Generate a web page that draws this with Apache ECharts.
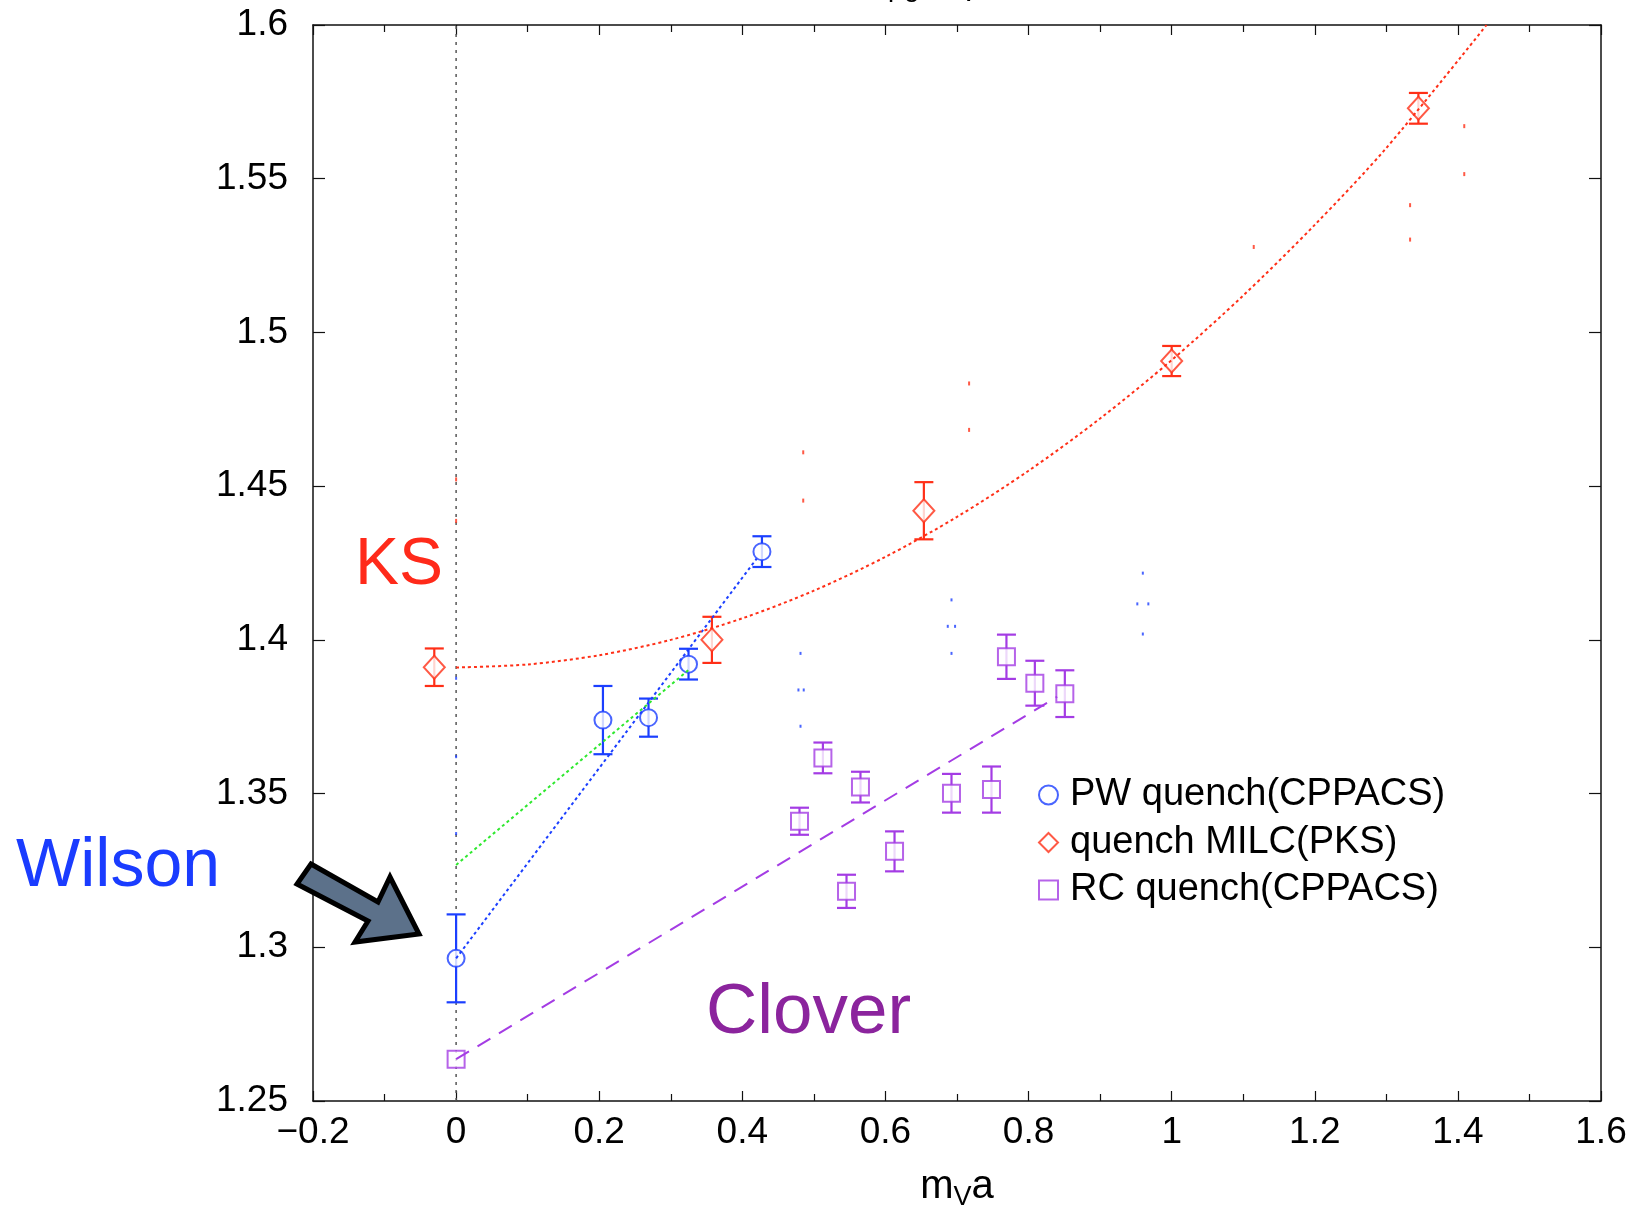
<!DOCTYPE html>
<html>
<head>
<meta charset="utf-8">
<title>m_V a chart</title>
<script src="https://cdn.jsdelivr.net/npm/echarts@6/dist/echarts.min.js"></script>
<style>
  html, body { margin: 0; padding: 0; background: #fff; }
  #chart { width: 1634px; height: 1206px; }
</style>
</head>
<body>
<div id="chart"></div>
<script>
// PW quench (CPPACS) - blue circles
var pwX = [0, 0.2052, 0.2689, 0.3248, 0.4274];
var pwY = [1.2964, 1.3739, 1.3747, 1.3921, 1.4287];
var pwErr = [0.0143, 0.0111, 0.0062, 0.005, 0.005];

// quench MILC (PKS) - red diamonds
var ksX = [-0.0305, 0.3575, 0.6537, 1.0, 1.3448];
var ksY = [1.3911, 1.4, 1.442, 1.4907, 1.5729];
var ksErr = [0.0061, 0.0075, 0.0093, 0.0049, 0.005];

// RC quench (CPPACS) - purple squares
var rcX = [0, 0.4799, 0.5126, 0.5456, 0.5651, 0.6127, 0.6923, 0.7482, 0.7691, 0.8088, 0.8507];
var rcY = [1.2636, 1.341, 1.3616, 1.3182, 1.3521, 1.3312, 1.3501, 1.3513, 1.3945, 1.3859, 1.3825];
var rcErr = [0, 0.0044, 0.005, 0.0054, 0.005, 0.0065, 0.0063, 0.0075, 0.0072, 0.0073, 0.0076];

// fit lines
var pwFitX = [0, 0.42];
var pwFitY = [1.2964, 1.4264];
var greenFitX = [0, 0.3248];
var greenFitY = [1.3268, 1.3902];
var ksFitX = [0, 0.1, 0.2, 0.3, 0.4, 0.5, 0.6, 0.7, 0.8, 0.9, 1.0, 1.1, 1.2, 1.3, 1.44];
var ksFitY = [1.391, 1.392, 1.395, 1.4, 1.407, 1.416, 1.427, 1.44, 1.455, 1.472, 1.491, 1.512, 1.535, 1.56, 1.6];
var rcFitX = [0, 0.84];
var rcFitY = [1.2636, 1.3815];

// stray specks left in the plot
var strayRedX = [0, 0, 0.4851, 0.4851, 0.7169, 0.7169, 1.1147, 1.3332, 1.3332, 1.4089, 1.4089];
var strayRedY = [1.4522, 1.4387, 1.461, 1.4453, 1.4834, 1.4683, 1.5278, 1.5414, 1.5302, 1.5671, 1.5515];
var strayBlueX = [0, 0, 0, 0.4813, 0.4784, 0.4858, 0.4813, 0.6923, 0.6871, 0.6973, 0.6923, 0.9597, 0.952, 0.9674, 0.9597];
var strayBlueY = [1.3875, 1.362, 1.337, 1.3956, 1.3837, 1.3837, 1.3719, 1.413, 1.4044, 1.4044, 1.3956, 1.4217, 1.4117, 1.4117, 1.4019];

var xTicks = { min: -0.2, max: 1.6, interval: 0.2 };
var yTicks = { min: 1.25, max: 1.6, interval: 0.05 };

var BLUE = '#1b3fff';
var RED = '#ff2f17';
var PURPLE = '#a43ce4';
var GREEN = '#2fe82f';
var FONT = 'Liberation Sans, Arial, Helvetica, sans-serif';

function pairs(xs, ys) {
  return xs.map(function (x, i) { return [x, ys[i]]; });
}
function errData(xs, ys, es) {
  var out = [];
  xs.forEach(function (x, i) {
    if (es[i] > 0) out.push([x, ys[i] - es[i], ys[i] + es[i]]);
  });
  return out;
}
function errBar(color) {
  return function (params, api) {
    var x = api.value(0);
    var lo = api.coord([x, api.value(1)]);
    var hi = api.coord([x, api.value(2)]);
    var w = 9.5;
    var st = { stroke: color, lineWidth: 2.2 };
    return {
      type: 'group',
      children: [
        { type: 'line', shape: { x1: lo[0], y1: lo[1], x2: hi[0], y2: hi[1] }, style: st },
        { type: 'line', shape: { x1: lo[0] - w, y1: lo[1], x2: lo[0] + w, y2: lo[1] }, style: st },
        { type: 'line', shape: { x1: hi[0] - w, y1: hi[1], x2: hi[0] + w, y2: hi[1] }, style: st }
      ]
    };
  };
}
function fitLine(xs, ys, color, type, width) {
  return {
    type: 'line', data: pairs(xs, ys), smooth: xs.length > 2 ? 0.3 : false,
    showSymbol: false, symbol: 'none', silent: true, z: 5,
    lineStyle: { color: color, width: width || 2, type: type }
  };
}

var xLabel = function (v) {
  var r = +v.toFixed(1);
  if (r === 0) return '0';
  return r < 0 ? '\u2212' + Math.abs(r) : String(r);
};
var yLabel = function (v) { return String(+v.toFixed(2)); };

var axisLine = { show: true, onZero: false, lineStyle: { color: '#111', width: 1.5 } };

var chart = echarts.init(document.getElementById('chart'));
var option = {
  backgroundColor: '#fff',
  animation: false,
  grid: { left: 313, right: 33, top: 25, bottom: 105, outerBoundsMode: 'none', containLabel: false },
  legend: {
    orient: 'vertical', left: 1033, top: 771,
    itemWidth: 19, itemHeight: 19, itemGap: 9.5,
    textStyle: { fontSize: 38, fontFamily: FONT, color: '#000', lineHeight: 38, padding: [0, 0, 0, 7] },
    data: ['PW quench(CPPACS)', 'quench MILC(PKS)', 'RC quench(CPPACS)']
  },
  xAxis: [
    {
      type: 'value', min: xTicks.min, max: xTicks.max, interval: xTicks.interval,
      position: 'bottom', axisLine: axisLine,
      axisTick: { inside: true, length: 10, lineStyle: { color: '#111', width: 1.2 } },
      minorTick: { show: true, splitNumber: 2, length: 7, lineStyle: { color: '#111', width: 1.2 } },
      splitLine: { show: false },
      axisLabel: { formatter: xLabel, fontSize: 37, fontFamily: FONT, color: '#000', margin: 13 },
      name: 'm{sub|V}a', nameLocation: 'middle', nameGap: 61,
      nameTextStyle: {
        fontSize: 40, fontFamily: FONT, color: '#000',
        rich: { sub: { fontSize: 27, fontFamily: FONT, color: '#000', verticalAlign: 'bottom', padding: [22, 0, 0, 0] } }
      }
    },
    {
      type: 'value', min: xTicks.min, max: xTicks.max, interval: xTicks.interval,
      position: 'top', axisLine: axisLine,
      axisTick: { inside: true, length: 10, lineStyle: { color: '#111', width: 1.2 } },
      minorTick: { show: true, splitNumber: 2, length: 7, lineStyle: { color: '#111', width: 1.2 } },
      splitLine: { show: false }, axisLabel: { show: false }
    }
  ],
  yAxis: [
    {
      type: 'value', min: yTicks.min, max: yTicks.max, interval: yTicks.interval,
      position: 'left', axisLine: axisLine,
      axisTick: { inside: true, length: 12, lineStyle: { color: '#111', width: 1.2 } },
      splitLine: { show: false },
      axisLabel: { formatter: yLabel, fontSize: 37, fontFamily: FONT, color: '#000', margin: 25 }
    },
    {
      type: 'value', min: yTicks.min, max: yTicks.max, interval: yTicks.interval,
      position: 'right', axisLine: axisLine,
      axisTick: { inside: true, length: 12, lineStyle: { color: '#111', width: 1.2 } },
      splitLine: { show: false }, axisLabel: { show: false }
    }
  ],
  graphic: [
    // title, mostly cut off above the picture
    { type: 'text', left: 888, top: -26, style: { text: '\u03c1g', fontSize: 28, fontFamily: FONT, fill: '#000' } },
    { type: 'text', left: 960, top: -19, style: { text: 'V', fontSize: 26, fontFamily: FONT, fill: '#000' } },
    { type: 'text', style: { text: 'KS', x: 355, y: 566, fontSize: 66, fontFamily: FONT, fill: '#ff2a1a', verticalAlign: 'middle' } },
    { type: 'text', style: { text: 'Wilson', x: 16, y: 867, fontSize: 68, fontFamily: FONT, fill: '#1a3cff', verticalAlign: 'middle' } },
    { type: 'text', style: { text: 'Clover', x: 706, y: 1013, fontSize: 71, fontFamily: FONT, fill: '#8b249d', verticalAlign: 'middle' } },
    {
      type: 'polygon', z: 10,
      shape: { points: [[311, 864], [378, 902], [390, 877], [419, 934], [355, 942], [368, 921], [297, 884]] },
      style: { fill: '#5c718a', stroke: '#000', lineWidth: 5, lineJoin: 'miter' }
    }
  ],
  series: [
    {
      type: 'line', data: [[0, yTicks.min], [0, yTicks.max]], symbol: 'none', silent: true, z: 1,
      lineStyle: { color: '#555', width: 1.5, type: [3, 5] }
    },
    { type: 'custom', renderItem: errBar(BLUE), data: errData(pwX, pwY, pwErr), encode: { x: 0, y: [1, 2] }, z: 2, silent: true },
    { type: 'custom', renderItem: errBar(RED), data: errData(ksX, ksY, ksErr), encode: { x: 0, y: [1, 2] }, z: 2, silent: true },
    { type: 'custom', renderItem: errBar(PURPLE), data: errData(rcX, rcY, rcErr), encode: { x: 0, y: [1, 2] }, z: 2, silent: true },
    {
      name: 'PW quench(CPPACS)', type: 'scatter', data: pairs(pwX, pwY), z: 4,
      symbol: 'emptyCircle', symbolSize: 17, itemStyle: { color: BLUE, borderColor: BLUE, borderWidth: 2.6 }
    },
    {
      name: 'quench MILC(PKS)', type: 'scatter', data: pairs(ksX, ksY), z: 4,
      symbol: 'emptyDiamond', symbolSize: [21, 23], itemStyle: { color: RED, borderColor: RED, borderWidth: 2.6 }
    },
    {
      name: 'RC quench(CPPACS)', type: 'scatter', data: pairs(rcX, rcY), z: 4,
      symbol: 'emptyRect', symbolSize: 17, itemStyle: { color: PURPLE, borderColor: PURPLE, borderWidth: 2.6 }
    },
    fitLine(pwFitX, pwFitY, BLUE, [3, 3]),
    fitLine(greenFitX, greenFitY, GREEN, [3, 3]),
    fitLine(ksFitX, ksFitY, RED, [3, 3]),
    fitLine(rcFitX, rcFitY, PURPLE, [15, 10]),
    {
      type: 'scatter', data: pairs(strayRedX, strayRedY), symbol: 'rect', symbolSize: [2, 4],
      itemStyle: { color: RED }, silent: true, z: 3
    },
    {
      type: 'scatter', data: pairs(strayBlueX, strayBlueY), symbol: 'rect', symbolSize: [2, 3],
      itemStyle: { color: BLUE }, silent: true, z: 3
    }
  ]
};
chart.setOption(option);
</script>
</body>
</html>
